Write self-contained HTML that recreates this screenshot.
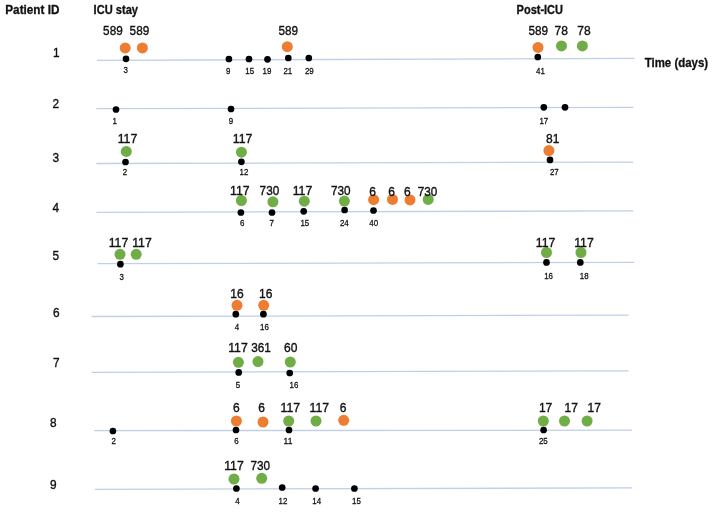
<!DOCTYPE html>
<html><head><meta charset="utf-8"><title>Patient timeline</title>
<style>
html,body{margin:0;padding:0;background:#fff;}
body{width:714px;height:513px;overflow:hidden;}
svg{display:block;filter:blur(0.4px);}
text{font-family:"Liberation Sans",sans-serif;fill:#111;stroke:#111;stroke-width:0.3px;}
.b,.p{stroke-width:0.38px;}
.h{font-weight:bold;font-size:12px;}
.p{font-size:13.5px;}
.b{font-size:13.7px;}
.s{font-size:9.8px;}
</style></head><body>
<svg width="714" height="513" viewBox="0 0 714 513">
<rect width="714" height="513" fill="#ffffff"/>
<g stroke="#C0D0E6" stroke-width="1.3" fill="none">
<line x1="97" y1="60.3" x2="634.6" y2="58.4"/>
<line x1="96.3" y1="108.7" x2="633.3" y2="107.3"/>
<line x1="96.4" y1="163.5" x2="633.3" y2="162.1"/>
<line x1="96.4" y1="212.4" x2="633.3" y2="210.9"/>
<line x1="97.4" y1="263.7" x2="634.4" y2="262.3"/>
<line x1="91.7" y1="316.5" x2="628.6" y2="315.1"/>
<line x1="91.7" y1="372.3" x2="628.6" y2="370.9"/>
<line x1="94" y1="430.6" x2="632" y2="430.2"/>
<line x1="94.8" y1="489.4" x2="632" y2="487.9"/>
</g>
<text class="h" style="font-size:12.3px" x="5.3" y="14.3" textLength="54.1" lengthAdjust="spacingAndGlyphs">Patient ID</text>
<text class="h" style="font-size:12.3px" x="93.6" y="14.3" textLength="44.4" lengthAdjust="spacingAndGlyphs">ICU stay</text>
<text class="h" style="font-size:12px" x="516.6" y="14.2" textLength="46.4" lengthAdjust="spacingAndGlyphs">Post-ICU</text>
<text class="h" style="font-size:13px" x="644.7" y="67" textLength="63.5" lengthAdjust="spacingAndGlyphs">Time (days)</text>
<text class="p" x="53" y="56.9" textLength="6.6" lengthAdjust="spacingAndGlyphs">1</text>
<text class="p" x="52.5" y="108.3" textLength="6.6" lengthAdjust="spacingAndGlyphs">2</text>
<text class="p" x="52.5" y="161.8" textLength="6.6" lengthAdjust="spacingAndGlyphs">3</text>
<text class="p" x="52.5" y="211.8" textLength="6.6" lengthAdjust="spacingAndGlyphs">4</text>
<text class="p" x="52.5" y="260.2" textLength="6.6" lengthAdjust="spacingAndGlyphs">5</text>
<text class="p" x="52.9" y="316.9" textLength="6.6" lengthAdjust="spacingAndGlyphs">6</text>
<text class="p" x="52.9" y="366.8" textLength="6.6" lengthAdjust="spacingAndGlyphs">7</text>
<text class="p" x="50.1" y="427" textLength="6.6" lengthAdjust="spacingAndGlyphs">8</text>
<text class="p" x="49.9" y="489.4" textLength="6.6" lengthAdjust="spacingAndGlyphs">9</text>
<circle cx="125.2" cy="47.9" r="5.5" fill="#ED7D31"/>
<circle cx="142.4" cy="47.9" r="5.5" fill="#ED7D31"/>
<circle cx="287.3" cy="46.7" r="5.5" fill="#ED7D31"/>
<circle cx="538" cy="47.4" r="5.5" fill="#ED7D31"/>
<circle cx="561.5" cy="45.9" r="5.5" fill="#70AD47"/>
<circle cx="582.4" cy="45.9" r="5.5" fill="#70AD47"/>
<circle cx="126.3" cy="151.4" r="5.5" fill="#70AD47"/>
<circle cx="241.4" cy="152.2" r="5.5" fill="#70AD47"/>
<circle cx="548.9" cy="150.6" r="5.5" fill="#ED7D31"/>
<circle cx="241.4" cy="200.5" r="5.5" fill="#70AD47"/>
<circle cx="272.9" cy="201.8" r="5.5" fill="#70AD47"/>
<circle cx="304.3" cy="201.2" r="5.5" fill="#70AD47"/>
<circle cx="344.4" cy="201.1" r="5.5" fill="#70AD47"/>
<circle cx="373.6" cy="199.7" r="5.5" fill="#ED7D31"/>
<circle cx="392.5" cy="199.4" r="5.5" fill="#ED7D31"/>
<circle cx="410" cy="199.9" r="5.5" fill="#ED7D31"/>
<circle cx="428.2" cy="199.4" r="5.5" fill="#70AD47"/>
<circle cx="120" cy="254.3" r="5.5" fill="#70AD47"/>
<circle cx="136.2" cy="254.3" r="5.5" fill="#70AD47"/>
<circle cx="546.5" cy="252.5" r="5.5" fill="#70AD47"/>
<circle cx="581" cy="252.5" r="5.5" fill="#70AD47"/>
<circle cx="237" cy="305.3" r="5.5" fill="#ED7D31"/>
<circle cx="263.7" cy="305.3" r="5.5" fill="#ED7D31"/>
<circle cx="238.4" cy="362.3" r="5.5" fill="#70AD47"/>
<circle cx="258" cy="361.6" r="5.5" fill="#70AD47"/>
<circle cx="290.3" cy="362" r="5.5" fill="#70AD47"/>
<circle cx="236.4" cy="421" r="5.5" fill="#ED7D31"/>
<circle cx="263" cy="422" r="5.5" fill="#ED7D31"/>
<circle cx="288.7" cy="421" r="5.5" fill="#70AD47"/>
<circle cx="316" cy="421" r="5.5" fill="#70AD47"/>
<circle cx="343.7" cy="420.3" r="5.5" fill="#ED7D31"/>
<circle cx="543.3" cy="421" r="5.5" fill="#70AD47"/>
<circle cx="564.5" cy="421" r="5.5" fill="#70AD47"/>
<circle cx="587.1" cy="421" r="5.5" fill="#70AD47"/>
<circle cx="234" cy="479" r="5.5" fill="#70AD47"/>
<circle cx="261.7" cy="478.3" r="5.5" fill="#70AD47"/>
<circle cx="126" cy="58.8" r="3.35" fill="#000"/>
<circle cx="228.9" cy="59" r="3.35" fill="#000"/>
<circle cx="249" cy="59" r="3.35" fill="#000"/>
<circle cx="267.5" cy="59.3" r="3.35" fill="#000"/>
<circle cx="288.3" cy="58" r="3.35" fill="#000"/>
<circle cx="308.8" cy="58" r="3.35" fill="#000"/>
<circle cx="537.8" cy="57" r="3.35" fill="#000"/>
<circle cx="116" cy="109.5" r="3.35" fill="#000"/>
<circle cx="231" cy="109" r="3.35" fill="#000"/>
<circle cx="543.8" cy="107.3" r="3.35" fill="#000"/>
<circle cx="565" cy="107.3" r="3.35" fill="#000"/>
<circle cx="125.5" cy="162" r="3.35" fill="#000"/>
<circle cx="241.4" cy="161.8" r="3.35" fill="#000"/>
<circle cx="550" cy="159.9" r="3.35" fill="#000"/>
<circle cx="240.9" cy="212.5" r="3.35" fill="#000"/>
<circle cx="272" cy="212.5" r="3.35" fill="#000"/>
<circle cx="303.7" cy="211.3" r="3.35" fill="#000"/>
<circle cx="344.6" cy="210" r="3.35" fill="#000"/>
<circle cx="373.5" cy="210.5" r="3.35" fill="#000"/>
<circle cx="120.4" cy="264.2" r="3.35" fill="#000"/>
<circle cx="546.5" cy="262.4" r="3.35" fill="#000"/>
<circle cx="580.3" cy="262.4" r="3.35" fill="#000"/>
<circle cx="235.8" cy="314.2" r="3.35" fill="#000"/>
<circle cx="263.4" cy="314.2" r="3.35" fill="#000"/>
<circle cx="238.7" cy="372.4" r="3.35" fill="#000"/>
<circle cx="289.7" cy="373" r="3.35" fill="#000"/>
<circle cx="112.9" cy="431" r="3.35" fill="#000"/>
<circle cx="236" cy="430" r="3.35" fill="#000"/>
<circle cx="289" cy="430" r="3.35" fill="#000"/>
<circle cx="543.6" cy="430" r="3.35" fill="#000"/>
<circle cx="236.4" cy="488.5" r="3.35" fill="#000"/>
<circle cx="282.2" cy="487.5" r="3.35" fill="#000"/>
<circle cx="315.6" cy="488.5" r="3.35" fill="#000"/>
<circle cx="354.4" cy="488.5" r="3.35" fill="#000"/>
<text class="b" x="103.1" y="34.8" textLength="19.6" lengthAdjust="spacingAndGlyphs">589</text>
<text class="b" x="129.6" y="34.8" textLength="19.6" lengthAdjust="spacingAndGlyphs">589</text>
<text class="b" x="278.5" y="34.9" textLength="19.6" lengthAdjust="spacingAndGlyphs">589</text>
<text class="b" x="528.5" y="34.5" textLength="19.6" lengthAdjust="spacingAndGlyphs">589</text>
<text class="b" x="554.5" y="34.5" textLength="13.4" lengthAdjust="spacingAndGlyphs">78</text>
<text class="b" x="577.2" y="34.5" textLength="13.4" lengthAdjust="spacingAndGlyphs">78</text>
<text class="b" x="117.7" y="143" textLength="19.6" lengthAdjust="spacingAndGlyphs">117</text>
<text class="b" x="232.8" y="142.9" textLength="19.6" lengthAdjust="spacingAndGlyphs">117</text>
<text class="b" x="546.1" y="143.4" textLength="13.4" lengthAdjust="spacingAndGlyphs">81</text>
<text class="b" x="230" y="194.8" textLength="19.6" lengthAdjust="spacingAndGlyphs">117</text>
<text class="b" x="259.6" y="194.8" textLength="19.6" lengthAdjust="spacingAndGlyphs">730</text>
<text class="b" x="292.7" y="194.8" textLength="19.6" lengthAdjust="spacingAndGlyphs">117</text>
<text class="b" x="331" y="195" textLength="19.6" lengthAdjust="spacingAndGlyphs">730</text>
<text class="b" x="369.35" y="195.7" textLength="6.7" lengthAdjust="spacingAndGlyphs">6</text>
<text class="b" x="388.15" y="195.7" textLength="6.7" lengthAdjust="spacingAndGlyphs">6</text>
<text class="b" x="404.05" y="195.7" textLength="6.7" lengthAdjust="spacingAndGlyphs">6</text>
<text class="b" x="417.7" y="195.7" textLength="19.6" lengthAdjust="spacingAndGlyphs">730</text>
<text class="b" x="108.7" y="247.2" textLength="19.6" lengthAdjust="spacingAndGlyphs">117</text>
<text class="b" x="132.2" y="247.2" textLength="19.6" lengthAdjust="spacingAndGlyphs">117</text>
<text class="b" x="535.8" y="247" textLength="19.6" lengthAdjust="spacingAndGlyphs">117</text>
<text class="b" x="574.2" y="247" textLength="19.6" lengthAdjust="spacingAndGlyphs">117</text>
<text class="b" x="230.3" y="297.9" textLength="13.4" lengthAdjust="spacingAndGlyphs">16</text>
<text class="b" x="259" y="297.9" textLength="13.4" lengthAdjust="spacingAndGlyphs">16</text>
<text class="b" x="228.2" y="351.9" textLength="19.6" lengthAdjust="spacingAndGlyphs">117</text>
<text class="b" x="251.2" y="351.9" textLength="19.6" lengthAdjust="spacingAndGlyphs">361</text>
<text class="b" x="284" y="351.9" textLength="13.4" lengthAdjust="spacingAndGlyphs">60</text>
<text class="b" x="233.05" y="412" textLength="6.7" lengthAdjust="spacingAndGlyphs">6</text>
<text class="b" x="258.35" y="412" textLength="6.7" lengthAdjust="spacingAndGlyphs">6</text>
<text class="b" x="280.5" y="412" textLength="19.6" lengthAdjust="spacingAndGlyphs">117</text>
<text class="b" x="309.6" y="412" textLength="19.6" lengthAdjust="spacingAndGlyphs">117</text>
<text class="b" x="339.65" y="412" textLength="6.7" lengthAdjust="spacingAndGlyphs">6</text>
<text class="b" x="538.9" y="412" textLength="13.4" lengthAdjust="spacingAndGlyphs">17</text>
<text class="b" x="564.6" y="412" textLength="13.4" lengthAdjust="spacingAndGlyphs">17</text>
<text class="b" x="587.5" y="412" textLength="13.4" lengthAdjust="spacingAndGlyphs">17</text>
<text class="b" x="224.2" y="470" textLength="19.6" lengthAdjust="spacingAndGlyphs">117</text>
<text class="b" x="250.5" y="470" textLength="19.6" lengthAdjust="spacingAndGlyphs">730</text>
<text class="s" x="123.6" y="73.4" textLength="4.4" lengthAdjust="spacingAndGlyphs">3</text>
<text class="s" x="226" y="73.7" textLength="4.4" lengthAdjust="spacingAndGlyphs">9</text>
<text class="s" x="245.3" y="73.7" textLength="8.8" lengthAdjust="spacingAndGlyphs">15</text>
<text class="s" x="262.6" y="73.7" textLength="8.8" lengthAdjust="spacingAndGlyphs">19</text>
<text class="s" x="283.4" y="73.7" textLength="8.8" lengthAdjust="spacingAndGlyphs">21</text>
<text class="s" x="304.9" y="73.7" textLength="8.8" lengthAdjust="spacingAndGlyphs">29</text>
<text class="s" x="536.1" y="74" textLength="8.8" lengthAdjust="spacingAndGlyphs">41</text>
<text class="s" x="112.4" y="123.7" textLength="4.4" lengthAdjust="spacingAndGlyphs">1</text>
<text class="s" x="228.8" y="123.7" textLength="4.4" lengthAdjust="spacingAndGlyphs">9</text>
<text class="s" x="539.4" y="124.1" textLength="8.8" lengthAdjust="spacingAndGlyphs">17</text>
<text class="s" x="122.8" y="175.2" textLength="4.4" lengthAdjust="spacingAndGlyphs">2</text>
<text class="s" x="239.5" y="175.2" textLength="8.8" lengthAdjust="spacingAndGlyphs">12</text>
<text class="s" x="549.9" y="175" textLength="8.8" lengthAdjust="spacingAndGlyphs">27</text>
<text class="s" x="239.9" y="226.1" textLength="4.4" lengthAdjust="spacingAndGlyphs">6</text>
<text class="s" x="269.6" y="226.1" textLength="4.4" lengthAdjust="spacingAndGlyphs">7</text>
<text class="s" x="300.4" y="226.1" textLength="8.8" lengthAdjust="spacingAndGlyphs">15</text>
<text class="s" x="339.9" y="226.1" textLength="8.8" lengthAdjust="spacingAndGlyphs">24</text>
<text class="s" x="369.3" y="226.1" textLength="8.8" lengthAdjust="spacingAndGlyphs">40</text>
<text class="s" x="119.5" y="279.7" textLength="4.4" lengthAdjust="spacingAndGlyphs">3</text>
<text class="s" x="544.2" y="279.2" textLength="8.8" lengthAdjust="spacingAndGlyphs">16</text>
<text class="s" x="579.8" y="279.2" textLength="8.8" lengthAdjust="spacingAndGlyphs">18</text>
<text class="s" x="234.8" y="330.3" textLength="4.4" lengthAdjust="spacingAndGlyphs">4</text>
<text class="s" x="260" y="330.3" textLength="8.8" lengthAdjust="spacingAndGlyphs">16</text>
<text class="s" x="235.8" y="387.6" textLength="4.4" lengthAdjust="spacingAndGlyphs">5</text>
<text class="s" x="289.6" y="387.6" textLength="8.8" lengthAdjust="spacingAndGlyphs">16</text>
<text class="s" x="111.4" y="444.2" textLength="4.4" lengthAdjust="spacingAndGlyphs">2</text>
<text class="s" x="234.2" y="443.9" textLength="4.4" lengthAdjust="spacingAndGlyphs">6</text>
<text class="s" x="283.6" y="443.9" textLength="8.8" lengthAdjust="spacingAndGlyphs">11</text>
<text class="s" x="538.9" y="443.9" textLength="8.8" lengthAdjust="spacingAndGlyphs">25</text>
<text class="s" x="235.2" y="504" textLength="4.4" lengthAdjust="spacingAndGlyphs">4</text>
<text class="s" x="278.6" y="504" textLength="8.8" lengthAdjust="spacingAndGlyphs">12</text>
<text class="s" x="312.3" y="504" textLength="8.8" lengthAdjust="spacingAndGlyphs">14</text>
<text class="s" x="352.1" y="504" textLength="8.8" lengthAdjust="spacingAndGlyphs">15</text>
</svg>
</body></html>
